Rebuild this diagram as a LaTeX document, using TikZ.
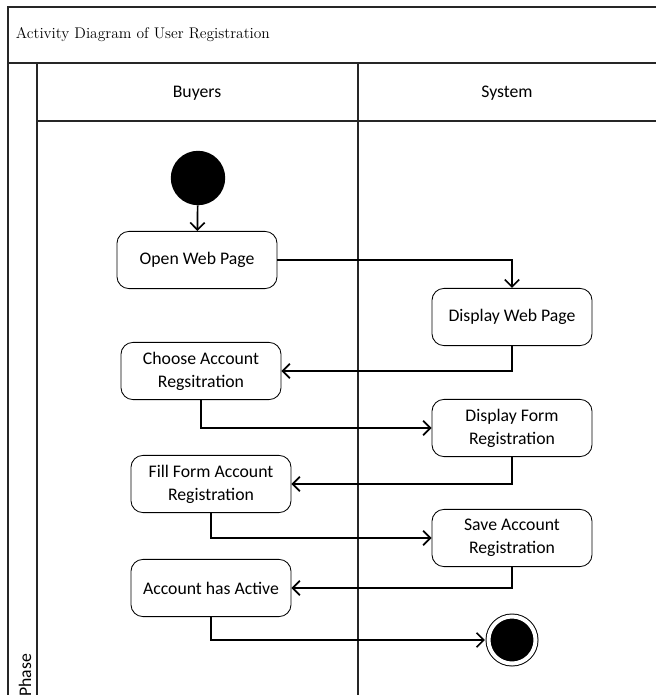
\documentclass[tikz,border=0pt]{standalone}
\usepackage{fontspec}
\setsansfont{Carlito}
\usetikzlibrary{arrows.meta}

\begin{document}
\begin{tikzpicture}[x=0.025cm,y=-0.025cm,
	activity/.style={draw,rounded corners=3mm,line width=0.6pt,minimum width=4cm,minimum height=1.43cm,align=center,font=\sffamily\fontsize{12.6}{16.4}\selectfont},
	lanetitle/.style={font=\sffamily\fontsize{12.6}{14}\selectfont},
	flow/.style={line width=1.2pt,-{Straight Barb[length=1.8mm,width=3.6mm]}},
	lane/.style={line width=1pt,draw=black!85}]
	\useasboundingbox (0,0) rectangle (656,695);
	% frame and swimlanes
	\draw[lane] (656,7) -- (8,7) -- (8,695);
	\draw[lane] (8,63) -- (656,63);
	\draw[lane] (37,63) -- (37,695);
	\draw[lane] (37,121) -- (656,121);
	\draw[lane] (358,63) -- (358,695);
	\node[anchor=west,font=\fontsize{11}{13}\selectfont] (title) at (11,35) {Activity Diagram of User Registration};
	\node[lanetitle] (buyers) at (197,93) {Buyers};
	\node[lanetitle] (system) at (507,93) {System};
	\node[lanetitle,rotate=90,anchor=west,inner sep=0pt] (phase) at (25,697) {Phase};
	% activities
	\node[circle,fill=black,minimum size=1.36cm,inner sep=0pt] (start) at (198,178) {};
	\node[activity] (openweb) at (197,260) {Open Web Page};
	\node[activity] (dispweb) at (512,317) {Display Web Page};
	\node[activity] (choose) at (201,371) {Choose Account\\Regsitration};
	\node[activity] (dispform) at (512,428) {Display Form\\Registration};
	\node[activity] (fillform) at (211,484) {Fill Form Account\\Registration};
	\node[activity] (save) at (512,538) {Save Account\\Registration};
	\node[activity] (active) at (211,588) {Account has Active};
	\node[circle,fill=black,draw=black,line width=0.7pt,double=white,double distance=0.1cm,minimum size=1.175cm,inner sep=0pt,outer sep=0.09cm] (final) at (512,640) {};
	% control flow
	\draw[flow] (start) -- (openweb);
	\draw[flow] (openweb) -| (dispweb);
	\draw[flow] (dispweb) |- (choose);
	\draw[flow] (choose) |- (dispform);
	\draw[flow] (dispform) |- (fillform);
	\draw[flow] (fillform) |- (save);
	\draw[flow] (save) |- (active);
	\draw[flow] (active) |- (final);
\end{tikzpicture}
\end{document}
